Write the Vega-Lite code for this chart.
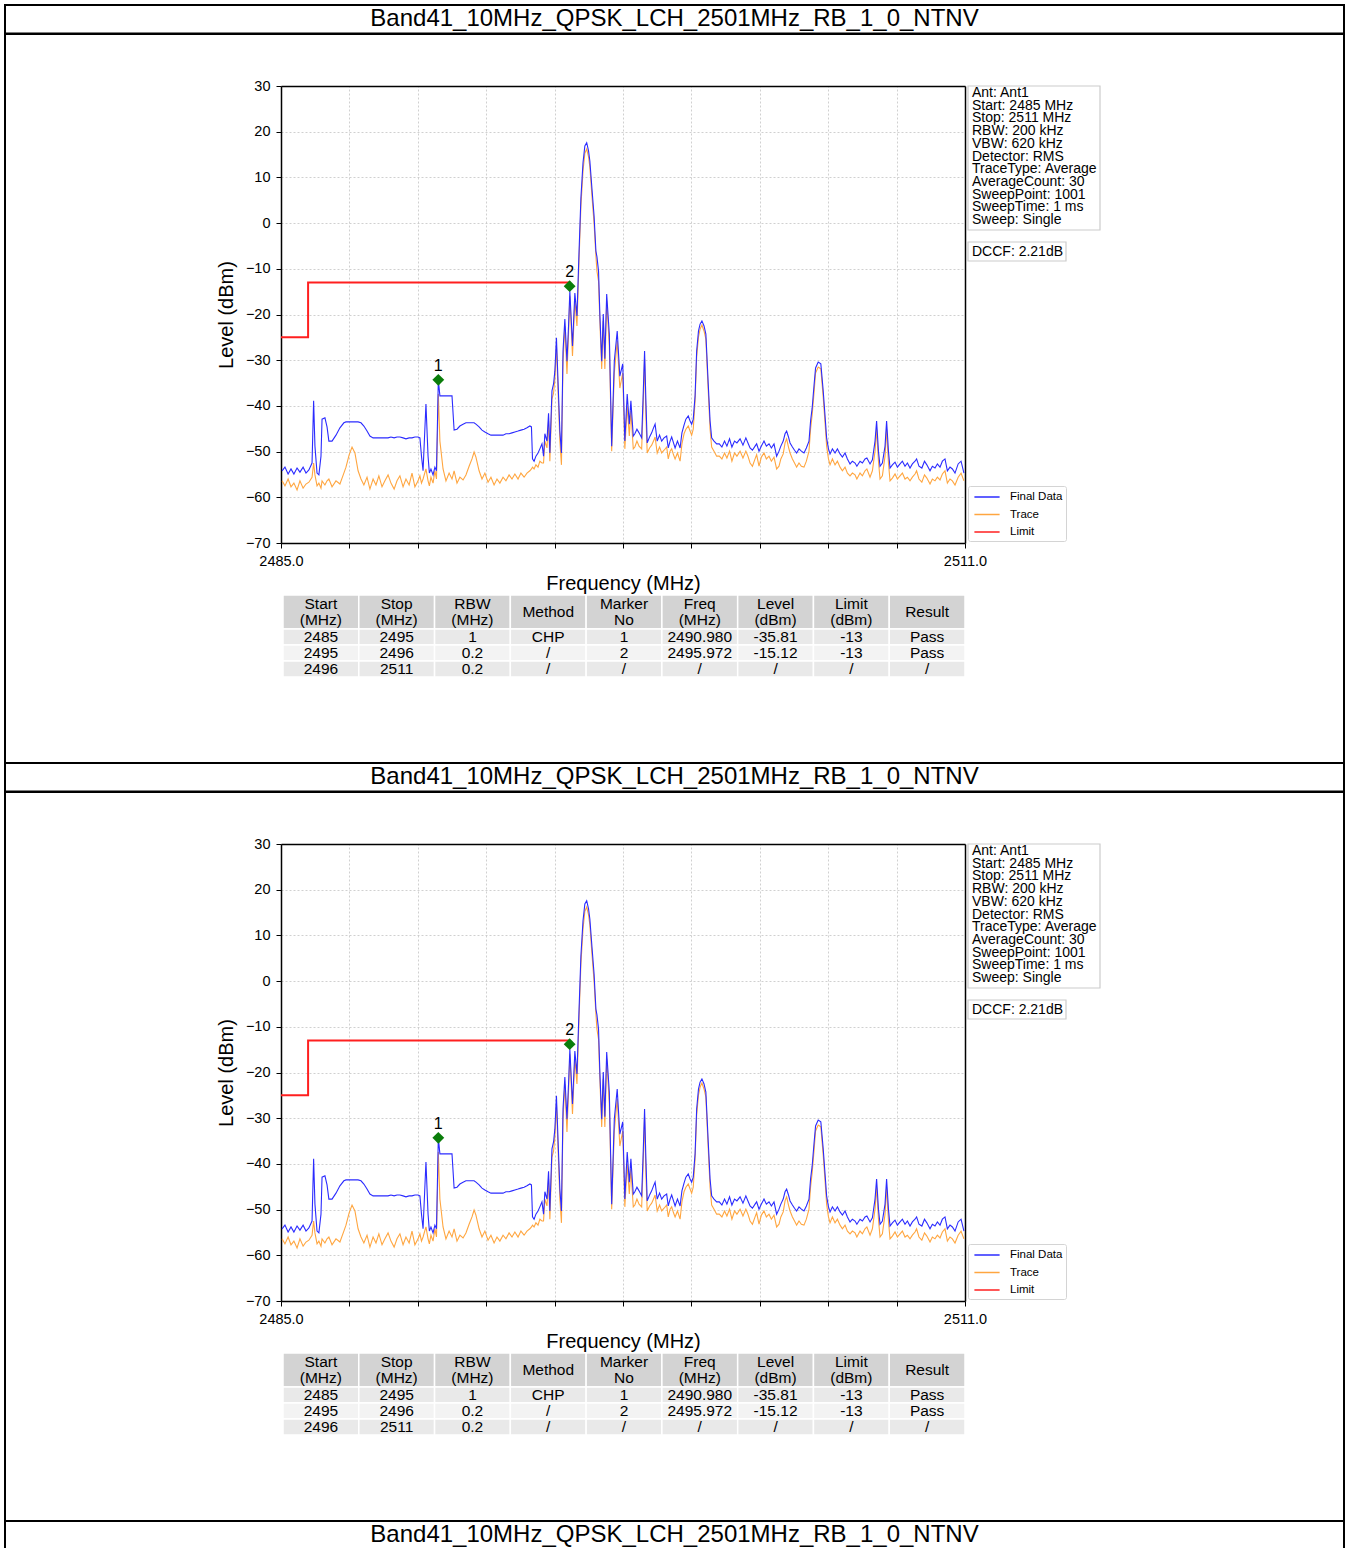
{
"$schema":"https://vega.github.io/schema/vega-lite/v6.json",
"padding":{"left":4,"top":4,"right":2,"bottom":0},
"background":"white",
"spacing":0,
"bounds":"flush",
"resolve":{"scale":{"color":"independent"},"legend":{"color":"independent"}},
"config":{"font":"Liberation Sans","view":{"stroke":null},"axis":{"titleFontWeight":"normal"},"text":{"font":"Liberation Sans"}},
"datasets":{
"ttl":[{"t":"Band41_10MHz_QPSK_LCH_2501MHz_RB_1_0_NTNV"}],
"limit":[{"f":2485,"v":-25},{"f":2486.03,"v":-13},{"f":2496,"v":-13}],
"mk":[{"f":2490.98,"lev":-34.3,"m":"1"},{"f":2495.972,"lev":-13.8,"m":"2"}],
"tblH":[{"col":"Start","h":"Start\n(MHz)"},{"col":"Stop","h":"Stop\n(MHz)"},{"col":"RBW","h":"RBW\n(MHz)"},{"col":"Method","h":"Method"},{"col":"Marker","h":"Marker\nNo"},{"col":"Freq","h":"Freq\n(MHz)"},{"col":"Level","h":"Level\n(dBm)"},{"col":"Limit","h":"Limit\n(dBm)"},{"col":"Result","h":"Result"}],
"tblB":[
{"row":"r1","Start":"2485","Stop":"2495","RBW":"1","Method":"CHP","Marker":"1","Freq":"2490.980","Level":"-35.81","Limit":"-13","Result":"Pass"},
{"row":"r2","Start":"2495","Stop":"2496","RBW":"0.2","Method":"/","Marker":"2","Freq":"2495.972","Level":"-15.12","Limit":"-13","Result":"Pass"},
{"row":"r3","Start":"2496","Stop":"2511","RBW":"0.2","Method":"/","Marker":"/","Freq":"/","Level":"/","Limit":"/","Result":"/"}],
"info":[{"k":"info","t":"Ant: Ant1\nStart: 2485 MHz\nStop: 2511 MHz\nRBW: 200 kHz\nVBW: 620 kHz\nDetector: RMS\nTraceType: Average\nAverageCount: 30\nSweepPoint: 1001\nSweepTime: 1 ms\nSweep: Single"}],
"dccf":[{"k":"dccf","t":"DCCF: 2.21dB"}],
"spec":[
{"f":2485.04,"fd":-54.2,"tr":-56.4},{"f":2485.15,"fd":-53.4,"tr":-57.5},{"f":2485.27,"fd":-54.9,"tr":-56.0},{"f":2485.38,"fd":-53.8,"tr":-57.7},{"f":2485.49,"fd":-54.9,"tr":-56.9},{"f":2485.61,"fd":-53.6,"tr":-58.4},{"f":2485.72,"fd":-54.5,"tr":-56.4},{"f":2485.84,"fd":-53.4,"tr":-58.0},{"f":2485.95,"fd":-54.7,"tr":-57.1},{"f":2486.06,"fd":-54.0,"tr":-56.7},
{"f":2486.18,"fd":-52.5,"tr":-55.6},{"f":2486.24,"fd":-38.9,"tr":-52.5},{"f":2486.29,"fd":-48.8,"tr":-55.1},{"f":2486.37,"fd":-54.7,"tr":-57.5},{"f":2486.44,"fd":-55.1,"tr":-56.9},{"f":2486.52,"fd":-51.0,"tr":-58.0},{"f":2486.56,"fd":-42.9,"tr":-56.4},{"f":2486.67,"fd":-42.6,"tr":-57.3},{"f":2486.75,"fd":-44.6,"tr":-56.4},{"f":2486.82,"fd":-47.7,"tr":-56.0},
{"f":2486.94,"fd":-47.7,"tr":-57.7},{"f":2487.09,"fd":-46.4,"tr":-56.4},{"f":2487.24,"fd":-44.8,"tr":-57.1},{"f":2487.39,"fd":-43.7,"tr":-54.7},{"f":2487.47,"fd":-43.5,"tr":-53.4},{"f":2487.59,"fd":-43.5,"tr":-50.7},{"f":2487.70,"fd":-43.5,"tr":-49.0},{"f":2487.81,"fd":-43.5,"tr":-50.3},{"f":2487.93,"fd":-43.5,"tr":-54.2},{"f":2488.04,"fd":-43.7,"tr":-56.0},
{"f":2488.15,"fd":-44.4,"tr":-57.3},{"f":2488.27,"fd":-45.5,"tr":-55.6},{"f":2488.38,"fd":-46.6,"tr":-58.2},{"f":2488.50,"fd":-47.0,"tr":-56.0},{"f":2488.61,"fd":-47.0,"tr":-57.3},{"f":2488.72,"fd":-47.0,"tr":-55.3},{"f":2488.84,"fd":-47.0,"tr":-57.7},{"f":2488.95,"fd":-47.0,"tr":-56.4},{"f":2489.07,"fd":-47.0,"tr":-55.1},{"f":2489.18,"fd":-46.8,"tr":-56.9},
{"f":2489.30,"fd":-47.0,"tr":-58.2},{"f":2489.41,"fd":-46.8,"tr":-56.4},{"f":2489.52,"fd":-46.8,"tr":-55.3},{"f":2489.64,"fd":-47.0,"tr":-57.7},{"f":2489.75,"fd":-47.2,"tr":-56.0},{"f":2489.87,"fd":-47.0,"tr":-57.3},{"f":2489.98,"fd":-47.0,"tr":-54.7},{"f":2490.09,"fd":-46.8,"tr":-57.7},{"f":2490.21,"fd":-46.8,"tr":-56.4},{"f":2490.28,"fd":-47.0,"tr":-55.3},
{"f":2490.34,"fd":-51.0,"tr":-56.9},{"f":2490.40,"fd":-54.2,"tr":-56.0},{"f":2490.51,"fd":-39.6,"tr":-53.8},{"f":2490.59,"fd":-51.0,"tr":-56.4},{"f":2490.64,"fd":-54.7,"tr":-57.5},{"f":2490.70,"fd":-53.8,"tr":-55.6},{"f":2490.78,"fd":-55.1,"tr":-56.9},{"f":2490.85,"fd":-53.4,"tr":-54.2},{"f":2490.91,"fd":-54.2,"tr":-56.0},{"f":2490.98,"fd":-34.3,"tr":-37.4},
{"f":2491.04,"fd":-37.8,"tr":-47.7},{"f":2491.16,"fd":-37.8,"tr":-53.8},{"f":2491.27,"fd":-37.8,"tr":-56.4},{"f":2491.39,"fd":-37.8,"tr":-54.7},{"f":2491.50,"fd":-37.8,"tr":-56.0},{"f":2491.58,"fd":-45.3,"tr":-54.2},{"f":2491.69,"fd":-45.1,"tr":-56.9},{"f":2491.80,"fd":-44.4,"tr":-55.6},{"f":2491.92,"fd":-44.0,"tr":-56.2},{"f":2492.03,"fd":-43.7,"tr":-55.1},
{"f":2492.15,"fd":-43.7,"tr":-53.2},{"f":2492.26,"fd":-43.7,"tr":-51.6},{"f":2492.34,"fd":-43.7,"tr":-50.1},{"f":2492.41,"fd":-44.0,"tr":-51.2},{"f":2492.53,"fd":-44.6,"tr":-54.2},{"f":2492.64,"fd":-45.3,"tr":-56.0},{"f":2492.75,"fd":-45.7,"tr":-54.7},{"f":2492.87,"fd":-46.1,"tr":-56.7},{"f":2492.98,"fd":-46.4,"tr":-55.6},{"f":2493.10,"fd":-46.4,"tr":-57.3},
{"f":2493.21,"fd":-46.4,"tr":-56.0},{"f":2493.32,"fd":-46.4,"tr":-56.9},{"f":2493.44,"fd":-46.4,"tr":-55.6},{"f":2493.55,"fd":-46.1,"tr":-56.4},{"f":2493.67,"fd":-46.1,"tr":-55.1},{"f":2493.78,"fd":-45.9,"tr":-56.0},{"f":2493.89,"fd":-45.7,"tr":-54.9},{"f":2494.01,"fd":-45.5,"tr":-56.0},{"f":2494.12,"fd":-45.3,"tr":-54.7},{"f":2494.24,"fd":-45.1,"tr":-55.6},
{"f":2494.35,"fd":-44.8,"tr":-54.7},{"f":2494.46,"fd":-44.4,"tr":-54.2},{"f":2494.52,"fd":-44.6,"tr":-53.8},{"f":2494.56,"fd":-51.6,"tr":-53.4},{"f":2494.62,"fd":-52.1,"tr":-53.8},{"f":2494.69,"fd":-51.0,"tr":-52.9},{"f":2494.77,"fd":-50.3,"tr":-53.4},{"f":2494.84,"fd":-49.4,"tr":-52.1},{"f":2494.92,"fd":-48.3,"tr":-52.5},{"f":2494.98,"fd":-51.0,"tr":-52.5},
{"f":2495.03,"fd":-46.1,"tr":-47.7},{"f":2495.11,"fd":-47.7,"tr":-49.2},{"f":2495.17,"fd":-41.6,"tr":-43.3},{"f":2495.22,"fd":-50.3,"tr":-52.1},{"f":2495.30,"fd":-36.7,"tr":-38.5},{"f":2495.36,"fd":-35.2,"tr":-37.2},{"f":2495.41,"fd":-32.4,"tr":-34.1},{"f":2495.47,"fd":-25.1,"tr":-26.9},{"f":2495.53,"fd":-34.6,"tr":-36.7},{"f":2495.60,"fd":-45.5,"tr":-47.7},
{"f":2495.66,"fd":-50.3,"tr":-52.9},{"f":2495.72,"fd":-28.0,"tr":-30.2},{"f":2495.79,"fd":-21.0,"tr":-22.5},{"f":2495.87,"fd":-30.2,"tr":-33.0},{"f":2495.93,"fd":-22.5,"tr":-24.3},{"f":2495.98,"fd":-14.9,"tr":-16.0},{"f":2496.08,"fd":-26.9,"tr":-29.1},{"f":2496.17,"fd":-15.3,"tr":-17.0},{"f":2496.25,"fd":-20.3,"tr":-22.5},{"f":2496.33,"fd":-6.1,"tr":-7.9},
{"f":2496.40,"fd":5.5,"tr":3.7},{"f":2496.48,"fd":13.2,"tr":11.4},{"f":2496.55,"fd":16.9,"tr":15.3},{"f":2496.62,"fd":17.6,"tr":16.2},{"f":2496.69,"fd":15.8,"tr":14.5},{"f":2496.74,"fd":13.6,"tr":12.3},{"f":2496.82,"fd":7.5,"tr":5.9},{"f":2496.90,"fd":1.6,"tr":0.0},{"f":2496.97,"fd":-6.1,"tr":-7.2},{"f":2497.01,"fd":-7.4,"tr":-10.5},
{"f":2497.07,"fd":-10.5,"tr":-12.7},{"f":2497.12,"fd":-19.9,"tr":-21.4},{"f":2497.19,"fd":-30.2,"tr":-31.9},{"f":2497.25,"fd":-19.9,"tr":-21.4},{"f":2497.31,"fd":-29.7,"tr":-31.9},{"f":2497.38,"fd":-15.5,"tr":-17.0},{"f":2497.48,"fd":-24.3,"tr":-26.9},{"f":2497.57,"fd":-48.8,"tr":-49.9},{"f":2497.67,"fd":-30.2,"tr":-32.8},{"f":2497.78,"fd":-23.6,"tr":-25.8},
{"f":2497.88,"fd":-33.5,"tr":-36.1},{"f":2497.99,"fd":-30.8,"tr":-32.8},{"f":2498.07,"fd":-47.7,"tr":-49.4},{"f":2498.16,"fd":-37.4,"tr":-40.0},{"f":2498.24,"fd":-44.0,"tr":-46.6},{"f":2498.30,"fd":-38.9,"tr":-41.1},{"f":2498.39,"fd":-46.6,"tr":-49.4},{"f":2498.45,"fd":-46.1,"tr":-49.0},{"f":2498.53,"fd":-45.1,"tr":-47.7},{"f":2498.61,"fd":-45.9,"tr":-48.8},
{"f":2498.71,"fd":-47.0,"tr":-49.4},{"f":2498.76,"fd":-38.9,"tr":-41.1},{"f":2498.82,"fd":-28.0,"tr":-29.7},{"f":2498.87,"fd":-38.9,"tr":-42.2},{"f":2498.92,"fd":-48.1,"tr":-50.3},{"f":2499.01,"fd":-46.8,"tr":-49.2},{"f":2499.09,"fd":-45.9,"tr":-48.6},{"f":2499.16,"fd":-44.8,"tr":-47.7},{"f":2499.22,"fd":-44.0,"tr":-46.8},{"f":2499.30,"fd":-47.7,"tr":-50.3},
{"f":2499.39,"fd":-46.4,"tr":-49.0},{"f":2499.47,"fd":-47.7,"tr":-50.3},{"f":2499.56,"fd":-47.0,"tr":-49.7},{"f":2499.66,"fd":-46.6,"tr":-49.0},{"f":2499.72,"fd":-49.2,"tr":-51.6},{"f":2499.79,"fd":-47.7,"tr":-49.9},{"f":2499.85,"fd":-46.8,"tr":-49.4},{"f":2499.92,"fd":-48.1,"tr":-50.7},{"f":2499.98,"fd":-49.2,"tr":-51.6},{"f":2500.07,"fd":-47.7,"tr":-50.3},
{"f":2500.17,"fd":-49.2,"tr":-52.1},{"f":2500.24,"fd":-45.9,"tr":-48.3},{"f":2500.32,"fd":-44.2,"tr":-46.1},{"f":2500.39,"fd":-42.9,"tr":-45.1},{"f":2500.48,"fd":-42.2,"tr":-44.4},{"f":2500.55,"fd":-43.3,"tr":-45.5},{"f":2500.61,"fd":-44.0,"tr":-46.4},{"f":2500.67,"fd":-42.9,"tr":-45.1},{"f":2500.74,"fd":-37.8,"tr":-38.9},{"f":2500.80,"fd":-28.0,"tr":-29.3},
{"f":2500.87,"fd":-23.6,"tr":-24.9},{"f":2500.93,"fd":-22.1,"tr":-23.2},{"f":2501.00,"fd":-21.4,"tr":-22.3},{"f":2501.08,"fd":-22.5,"tr":-23.6},{"f":2501.15,"fd":-24.3,"tr":-25.4},{"f":2501.24,"fd":-35.2,"tr":-36.7},{"f":2501.31,"fd":-43.3,"tr":-45.1},{"f":2501.37,"fd":-47.0,"tr":-49.0},{"f":2501.46,"fd":-47.7,"tr":-49.9},{"f":2501.56,"fd":-48.3,"tr":-51.0},
{"f":2501.66,"fd":-48.3,"tr":-51.0},{"f":2501.76,"fd":-49.0,"tr":-51.6},{"f":2501.86,"fd":-47.7,"tr":-50.3},{"f":2501.95,"fd":-48.8,"tr":-51.4},{"f":2502.05,"fd":-47.2,"tr":-49.9},{"f":2502.14,"fd":-49.0,"tr":-52.1},{"f":2502.24,"fd":-47.7,"tr":-50.3},{"f":2502.33,"fd":-48.1,"tr":-51.0},{"f":2502.45,"fd":-47.2,"tr":-49.9},{"f":2502.56,"fd":-48.6,"tr":-51.4},
{"f":2502.67,"fd":-47.0,"tr":-49.9},{"f":2502.75,"fd":-48.1,"tr":-51.0},{"f":2502.83,"fd":-49.2,"tr":-52.5},{"f":2502.92,"fd":-49.7,"tr":-53.2},{"f":2503.02,"fd":-48.8,"tr":-51.6},{"f":2503.08,"fd":-48.3,"tr":-50.7},{"f":2503.17,"fd":-49.9,"tr":-53.2},{"f":2503.26,"fd":-48.8,"tr":-51.2},{"f":2503.36,"fd":-47.7,"tr":-50.3},{"f":2503.45,"fd":-48.8,"tr":-51.6},
{"f":2503.55,"fd":-48.3,"tr":-51.0},{"f":2503.64,"fd":-49.2,"tr":-52.1},{"f":2503.74,"fd":-48.3,"tr":-51.2},{"f":2503.84,"fd":-51.0,"tr":-53.8},{"f":2503.93,"fd":-49.9,"tr":-53.2},{"f":2504.00,"fd":-48.8,"tr":-51.6},{"f":2504.09,"fd":-47.7,"tr":-50.5},{"f":2504.16,"fd":-46.1,"tr":-48.1},{"f":2504.22,"fd":-45.5,"tr":-47.2},{"f":2504.29,"fd":-46.8,"tr":-49.0},
{"f":2504.35,"fd":-48.1,"tr":-50.3},{"f":2504.44,"fd":-49.0,"tr":-51.6},{"f":2504.52,"fd":-49.7,"tr":-52.5},{"f":2504.60,"fd":-50.3,"tr":-53.4},{"f":2504.69,"fd":-49.4,"tr":-52.5},{"f":2504.78,"fd":-49.9,"tr":-53.2},{"f":2504.88,"fd":-50.3,"tr":-53.4},{"f":2504.97,"fd":-49.2,"tr":-52.1},{"f":2505.07,"fd":-47.7,"tr":-49.9},{"f":2505.13,"fd":-43.3,"tr":-45.1},
{"f":2505.19,"fd":-40.5,"tr":-42.0},{"f":2505.26,"fd":-35.6,"tr":-37.2},{"f":2505.32,"fd":-31.7,"tr":-32.8},{"f":2505.42,"fd":-30.4,"tr":-31.5},{"f":2505.52,"fd":-30.8,"tr":-31.9},{"f":2505.61,"fd":-36.7,"tr":-38.1},{"f":2505.68,"fd":-42.2,"tr":-43.7},{"f":2505.74,"fd":-47.0,"tr":-48.8},{"f":2505.81,"fd":-49.4,"tr":-51.6},{"f":2505.87,"fd":-50.5,"tr":-52.9},
{"f":2505.96,"fd":-49.4,"tr":-51.6},{"f":2506.06,"fd":-50.3,"tr":-52.9},{"f":2506.15,"fd":-49.4,"tr":-52.1},{"f":2506.25,"fd":-50.5,"tr":-53.4},{"f":2506.34,"fd":-51.2,"tr":-54.2},{"f":2506.44,"fd":-50.3,"tr":-53.4},{"f":2506.53,"fd":-51.6,"tr":-54.7},{"f":2506.63,"fd":-52.7,"tr":-55.3},{"f":2506.72,"fd":-52.1,"tr":-54.7},{"f":2506.82,"fd":-52.5,"tr":-55.1},
{"f":2506.89,"fd":-53.2,"tr":-56.0},{"f":2507.01,"fd":-52.1,"tr":-54.7},{"f":2507.10,"fd":-52.5,"tr":-55.3},{"f":2507.20,"fd":-51.6,"tr":-54.2},{"f":2507.27,"fd":-51.4,"tr":-53.8},{"f":2507.39,"fd":-52.7,"tr":-55.6},{"f":2507.48,"fd":-51.8,"tr":-54.2},{"f":2507.58,"fd":-47.7,"tr":-49.9},{"f":2507.64,"fd":-43.3,"tr":-45.1},{"f":2507.71,"fd":-49.9,"tr":-52.1},
{"f":2507.77,"fd":-53.2,"tr":-56.0},{"f":2507.86,"fd":-52.5,"tr":-55.3},{"f":2507.96,"fd":-48.8,"tr":-51.0},{"f":2508.02,"fd":-43.3,"tr":-45.1},{"f":2508.09,"fd":-49.9,"tr":-52.5},{"f":2508.15,"fd":-53.6,"tr":-56.4},{"f":2508.24,"fd":-52.9,"tr":-55.8},{"f":2508.34,"fd":-52.3,"tr":-54.9},{"f":2508.43,"fd":-53.4,"tr":-56.0},{"f":2508.53,"fd":-52.7,"tr":-55.3},
{"f":2508.62,"fd":-52.1,"tr":-54.7},{"f":2508.72,"fd":-53.2,"tr":-56.0},{"f":2508.81,"fd":-52.5,"tr":-55.6},{"f":2508.91,"fd":-53.6,"tr":-56.4},{"f":2509.00,"fd":-52.7,"tr":-55.6},{"f":2509.10,"fd":-52.1,"tr":-54.9},{"f":2509.16,"fd":-51.6,"tr":-54.2},{"f":2509.25,"fd":-53.2,"tr":-56.0},{"f":2509.36,"fd":-53.6,"tr":-56.7},{"f":2509.46,"fd":-52.1,"tr":-55.1},
{"f":2509.55,"fd":-52.9,"tr":-55.8},{"f":2509.67,"fd":-54.2,"tr":-57.1},{"f":2509.76,"fd":-53.2,"tr":-56.0},{"f":2509.86,"fd":-53.6,"tr":-56.4},{"f":2509.95,"fd":-52.7,"tr":-55.6},{"f":2510.05,"fd":-53.4,"tr":-56.2},{"f":2510.14,"fd":-52.1,"tr":-54.9},{"f":2510.24,"fd":-51.6,"tr":-54.2},{"f":2510.33,"fd":-54.2,"tr":-56.9},{"f":2510.43,"fd":-53.4,"tr":-56.0},
{"f":2510.52,"fd":-53.8,"tr":-56.4},{"f":2510.62,"fd":-54.7,"tr":-57.3},{"f":2510.74,"fd":-52.7,"tr":-55.6},{"f":2510.85,"fd":-52.1,"tr":-54.7},{"f":2510.96,"fd":-54.7,"tr":-56.4}
]
},
"vconcat":[
{"width":1339,"height":28.5,"view":{"stroke":"black","strokeWidth":2},"data":{"name":"ttl"},"mark":{"type":"text","fontSize":24,"baseline":"middle","color":"black"},"encoding":{"text":{"field":"t"}}},
{"width":1339,"height":729,"view":{"stroke":"black","strokeWidth":2},
"resolve":{"scale":{"x":"independent","y":"independent"},"axis":{"x":"independent","y":"independent"}},
"layer":[
{"layer":[
{"data":{"name":"spec"},"mark":{"type":"line","strokeWidth":1.1},
"encoding":{
"x":{"field":"f","type":"quantitative","scale":{"domain":[2485,2511],"range":[276,960],"nice":false,"zero":false},"axis":{"orient":"top","offset":-52,"values":[2485,2487.6,2490.2,2492.8,2495.4,2498,2500.6,2503.2,2505.8,2508.4,2511],"grid":true,"gridColor":"#c4c4c4","gridDash":[2,2],"gridWidth":0.8,"ticks":false,"labels":false,"domainColor":"black","domainWidth":1.5,"title":null}},
"y":{"field":"tr","type":"quantitative","scale":{"domain":[-70,30],"range":[509,52],"nice":false,"zero":false},"axis":{"orient":"right","offset":-379,"grid":false,"ticks":false,"labels":false,"domainColor":"black","domainWidth":1.5,"title":null}},
"color":{"datum":"Trace","type":"nominal","scale":{"domain":["Final Data","Trace","Limit"],"range":["#2b2bff","#ffa640","#ff1f1f"]},"legend":{"title":null,"orient":"none","legendX":963,"legendY":452,"symbolType":"M-1.8,0H1.8","symbolSize":196,"symbolStrokeWidth":1.5,"symbolOffset":8,"labelFontSize":11.5,"labelColor":"black","labelOffset":15,"padding":3,"rowPadding":3.5,"strokeColor":"#d4d4d4","fillColor":"white","cornerRadius":2}}}},
{"data":{"name":"spec"},"mark":{"type":"line","strokeWidth":1.1},
"encoding":{
"x":{"field":"f","type":"quantitative","scale":{"domain":[2485,2511],"range":[276,960],"nice":false,"zero":false},"axis":{"orient":"bottom","offset":-220,"values":[2485,2487.6,2490.2,2492.8,2495.4,2498,2500.6,2503.2,2505.8,2508.4,2511],"grid":false,"domainColor":"black","domainWidth":1.5,"tickColor":"black","tickSize":5,"labelExpr":"datum.value == 2485 || datum.value == 2511 ? format(datum.value, '.1f') : ''","labelFontSize":14.5,"labelColor":"black","labelPadding":6,"labelFlush":false,"labelOverlap":false,"title":"Frequency (MHz)","titleFontSize":20,"titleColor":"black","titlePadding":6}},
"y":{"field":"fd","type":"quantitative","scale":{"domain":[-70,30],"range":[509,52],"nice":false,"zero":false},"axis":{"orient":"left","offset":-276,"values":[-70,-60,-50,-40,-30,-20,-10,0,10,20,30],"format":"d","grid":true,"gridColor":"#c4c4c4","gridDash":[2,2],"gridWidth":0.8,"domainColor":"black","domainWidth":1.5,"tickColor":"black","tickSize":5,"labelFontSize":14.5,"labelColor":"black","labelPadding":6,"labelFlush":false,"title":"Level (dBm)","titleFontSize":20,"titleColor":"black","titlePadding":9}},
"color":{"datum":"Final Data","type":"nominal"}}},
{"data":{"name":"limit"},"mark":{"type":"line","interpolate":"step-after","strokeWidth":2},
"encoding":{"x":{"field":"f","type":"quantitative","scale":{"domain":[2485,2511],"range":[276,960],"nice":false,"zero":false},"axis":null},"y":{"field":"v","type":"quantitative","scale":{"domain":[-70,30],"range":[509,52],"nice":false,"zero":false},"axis":null},"color":{"datum":"Limit","type":"nominal"}}},
{"data":{"name":"mk"},"mark":{"type":"point","shape":"diamond","filled":true,"size":140,"color":"#0a7d0a","opacity":1},
"encoding":{"x":{"field":"f","type":"quantitative","scale":{"domain":[2485,2511],"range":[276,960],"nice":false,"zero":false},"axis":null},"y":{"field":"lev","type":"quantitative","scale":{"domain":[-70,30],"range":[509,52],"nice":false,"zero":false},"axis":null}}},
{"data":{"name":"mk"},"mark":{"type":"text","dy":-14,"fontSize":16,"color":"black"},
"encoding":{"x":{"field":"f","type":"quantitative","scale":{"domain":[2485,2511],"range":[276,960],"nice":false,"zero":false},"axis":null},"y":{"field":"lev","type":"quantitative","scale":{"domain":[-70,30],"range":[509,52],"nice":false,"zero":false},"axis":null},"text":{"field":"m"}}}
]},
{"data":{"name":"tblH"},
"encoding":{
"x":{"field":"col","type":"nominal","sort":null,"scale":{"domain":["Start","Stop","RBW","Method","Marker","Freq","Level","Limit","Result"],"range":[278,960],"paddingInner":0,"paddingOuter":0},"axis":null},
"y":{"datum":"head","type":"nominal","scale":{"domain":["head"],"range":[561,595],"paddingInner":0,"paddingOuter":0},"axis":null}},
"layer":[
{"mark":{"type":"rect","fill":"#d3d3d3","stroke":"white","strokeWidth":1.5}},
{"transform":[{"filter":"datum.col != 'Method' && datum.col != 'Result'"}],"mark":{"type":"text","fontSize":15.5,"lineBreak":"\n","lineHeight":16,"baseline":"middle","dy":-8,"color":"black"},"encoding":{"text":{"field":"h"}}},
{"transform":[{"filter":"datum.col == 'Method' || datum.col == 'Result'"}],"mark":{"type":"text","fontSize":15.5,"baseline":"middle","color":"black"},"encoding":{"text":{"field":"h"}}}
]},
{"data":{"name":"tblB"},
"transform":[{"fold":["Start","Stop","RBW","Method","Marker","Freq","Level","Limit","Result"],"as":["col","val"]}],
"encoding":{
"x":{"field":"col","type":"nominal","sort":null,"scale":{"domain":["Start","Stop","RBW","Method","Marker","Freq","Level","Limit","Result"],"range":[278,960],"paddingInner":0,"paddingOuter":0},"axis":null},
"y":{"field":"row","type":"nominal","scale":{"domain":["r1","r2","r3"],"range":[595,643],"paddingInner":0,"paddingOuter":0},"axis":null}},
"layer":[
{"mark":{"type":"rect","stroke":"white","strokeWidth":1.5},"encoding":{"fill":{"condition":{"test":"datum.row == 'r2'","value":"#f3f3f3"},"value":"#e9e9e9"}}},
{"mark":{"type":"text","fontSize":15.5,"baseline":"middle","color":"black"},"encoding":{"text":{"field":"val"}}}
]},
{"data":{"name":"info"},
"layer":[
{"mark":{"type":"rect","fill":"white","stroke":"#cccccc","strokeWidth":1.2},
"encoding":{"x":{"field":"k","type":"nominal","scale":{"domain":["info"],"range":[963,1095],"paddingInner":0,"paddingOuter":0},"axis":null},"y":{"field":"k","type":"nominal","scale":{"domain":["info"],"range":[52,196],"paddingInner":0,"paddingOuter":0},"axis":null}}},
{"mark":{"type":"text","align":"left","baseline":"top","dx":4,"dy":0,"fontSize":14,"lineHeight":12.7,"lineBreak":"\n","color":"black"},
"encoding":{"x":{"field":"k","type":"nominal","bandPosition":0,"scale":{"domain":["info"],"range":[963,1095],"paddingInner":0,"paddingOuter":0},"axis":null},"y":{"field":"k","type":"nominal","bandPosition":0,"scale":{"domain":["info"],"range":[52,196],"paddingInner":0,"paddingOuter":0},"axis":null},"text":{"field":"t"}}}
]},
{"data":{"name":"dccf"},
"layer":[
{"mark":{"type":"rect","fill":"white","stroke":"#cccccc","strokeWidth":1.2},
"encoding":{"x":{"field":"k","type":"nominal","scale":{"domain":["dccf"],"range":[963,1061],"paddingInner":0,"paddingOuter":0},"axis":null},"y":{"field":"k","type":"nominal","scale":{"domain":["dccf"],"range":[208,227],"paddingInner":0,"paddingOuter":0},"axis":null}}},
{"mark":{"type":"text","align":"left","baseline":"middle","dx":4,"fontSize":14,"color":"black"},
"encoding":{"x":{"field":"k","type":"nominal","bandPosition":0,"scale":{"domain":["dccf"],"range":[963,1061],"paddingInner":0,"paddingOuter":0},"axis":null},"y":{"field":"k","type":"nominal","scale":{"domain":["dccf"],"range":[208,227],"paddingInner":0,"paddingOuter":0},"axis":null},"text":{"field":"t"}}}
]}
]},
{"width":1339,"height":28.5,"view":{"stroke":"black","strokeWidth":2},"data":{"name":"ttl"},"mark":{"type":"text","fontSize":24,"baseline":"middle","color":"black"},"encoding":{"text":{"field":"t"}}},
{"width":1339,"height":729,"view":{"stroke":"black","strokeWidth":2},
"resolve":{"scale":{"x":"independent","y":"independent"},"axis":{"x":"independent","y":"independent"}},
"layer":[
{"layer":[
{"data":{"name":"spec"},"mark":{"type":"line","strokeWidth":1.1},
"encoding":{
"x":{"field":"f","type":"quantitative","scale":{"domain":[2485,2511],"range":[276,960],"nice":false,"zero":false},"axis":{"orient":"top","offset":-52,"values":[2485,2487.6,2490.2,2492.8,2495.4,2498,2500.6,2503.2,2505.8,2508.4,2511],"grid":true,"gridColor":"#c4c4c4","gridDash":[2,2],"gridWidth":0.8,"ticks":false,"labels":false,"domainColor":"black","domainWidth":1.5,"title":null}},
"y":{"field":"tr","type":"quantitative","scale":{"domain":[-70,30],"range":[509,52],"nice":false,"zero":false},"axis":{"orient":"right","offset":-379,"grid":false,"ticks":false,"labels":false,"domainColor":"black","domainWidth":1.5,"title":null}},
"color":{"datum":"Trace","type":"nominal","scale":{"domain":["Final Data","Trace","Limit"],"range":["#2b2bff","#ffa640","#ff1f1f"]},"legend":{"title":null,"orient":"none","legendX":963,"legendY":452,"symbolType":"M-1.8,0H1.8","symbolSize":196,"symbolStrokeWidth":1.5,"symbolOffset":8,"labelFontSize":11.5,"labelColor":"black","labelOffset":15,"padding":3,"rowPadding":3.5,"strokeColor":"#d4d4d4","fillColor":"white","cornerRadius":2}}}},
{"data":{"name":"spec"},"mark":{"type":"line","strokeWidth":1.1},
"encoding":{
"x":{"field":"f","type":"quantitative","scale":{"domain":[2485,2511],"range":[276,960],"nice":false,"zero":false},"axis":{"orient":"bottom","offset":-220,"values":[2485,2487.6,2490.2,2492.8,2495.4,2498,2500.6,2503.2,2505.8,2508.4,2511],"grid":false,"domainColor":"black","domainWidth":1.5,"tickColor":"black","tickSize":5,"labelExpr":"datum.value == 2485 || datum.value == 2511 ? format(datum.value, '.1f') : ''","labelFontSize":14.5,"labelColor":"black","labelPadding":6,"labelFlush":false,"labelOverlap":false,"title":"Frequency (MHz)","titleFontSize":20,"titleColor":"black","titlePadding":6}},
"y":{"field":"fd","type":"quantitative","scale":{"domain":[-70,30],"range":[509,52],"nice":false,"zero":false},"axis":{"orient":"left","offset":-276,"values":[-70,-60,-50,-40,-30,-20,-10,0,10,20,30],"format":"d","grid":true,"gridColor":"#c4c4c4","gridDash":[2,2],"gridWidth":0.8,"domainColor":"black","domainWidth":1.5,"tickColor":"black","tickSize":5,"labelFontSize":14.5,"labelColor":"black","labelPadding":6,"labelFlush":false,"title":"Level (dBm)","titleFontSize":20,"titleColor":"black","titlePadding":9}},
"color":{"datum":"Final Data","type":"nominal"}}},
{"data":{"name":"limit"},"mark":{"type":"line","interpolate":"step-after","strokeWidth":2},
"encoding":{"x":{"field":"f","type":"quantitative","scale":{"domain":[2485,2511],"range":[276,960],"nice":false,"zero":false},"axis":null},"y":{"field":"v","type":"quantitative","scale":{"domain":[-70,30],"range":[509,52],"nice":false,"zero":false},"axis":null},"color":{"datum":"Limit","type":"nominal"}}},
{"data":{"name":"mk"},"mark":{"type":"point","shape":"diamond","filled":true,"size":140,"color":"#0a7d0a","opacity":1},
"encoding":{"x":{"field":"f","type":"quantitative","scale":{"domain":[2485,2511],"range":[276,960],"nice":false,"zero":false},"axis":null},"y":{"field":"lev","type":"quantitative","scale":{"domain":[-70,30],"range":[509,52],"nice":false,"zero":false},"axis":null}}},
{"data":{"name":"mk"},"mark":{"type":"text","dy":-14,"fontSize":16,"color":"black"},
"encoding":{"x":{"field":"f","type":"quantitative","scale":{"domain":[2485,2511],"range":[276,960],"nice":false,"zero":false},"axis":null},"y":{"field":"lev","type":"quantitative","scale":{"domain":[-70,30],"range":[509,52],"nice":false,"zero":false},"axis":null},"text":{"field":"m"}}}
]},
{"data":{"name":"tblH"},
"encoding":{
"x":{"field":"col","type":"nominal","sort":null,"scale":{"domain":["Start","Stop","RBW","Method","Marker","Freq","Level","Limit","Result"],"range":[278,960],"paddingInner":0,"paddingOuter":0},"axis":null},
"y":{"datum":"head","type":"nominal","scale":{"domain":["head"],"range":[561,595],"paddingInner":0,"paddingOuter":0},"axis":null}},
"layer":[
{"mark":{"type":"rect","fill":"#d3d3d3","stroke":"white","strokeWidth":1.5}},
{"transform":[{"filter":"datum.col != 'Method' && datum.col != 'Result'"}],"mark":{"type":"text","fontSize":15.5,"lineBreak":"\n","lineHeight":16,"baseline":"middle","dy":-8,"color":"black"},"encoding":{"text":{"field":"h"}}},
{"transform":[{"filter":"datum.col == 'Method' || datum.col == 'Result'"}],"mark":{"type":"text","fontSize":15.5,"baseline":"middle","color":"black"},"encoding":{"text":{"field":"h"}}}
]},
{"data":{"name":"tblB"},
"transform":[{"fold":["Start","Stop","RBW","Method","Marker","Freq","Level","Limit","Result"],"as":["col","val"]}],
"encoding":{
"x":{"field":"col","type":"nominal","sort":null,"scale":{"domain":["Start","Stop","RBW","Method","Marker","Freq","Level","Limit","Result"],"range":[278,960],"paddingInner":0,"paddingOuter":0},"axis":null},
"y":{"field":"row","type":"nominal","scale":{"domain":["r1","r2","r3"],"range":[595,643],"paddingInner":0,"paddingOuter":0},"axis":null}},
"layer":[
{"mark":{"type":"rect","stroke":"white","strokeWidth":1.5},"encoding":{"fill":{"condition":{"test":"datum.row == 'r2'","value":"#f3f3f3"},"value":"#e9e9e9"}}},
{"mark":{"type":"text","fontSize":15.5,"baseline":"middle","color":"black"},"encoding":{"text":{"field":"val"}}}
]},
{"data":{"name":"info"},
"layer":[
{"mark":{"type":"rect","fill":"white","stroke":"#cccccc","strokeWidth":1.2},
"encoding":{"x":{"field":"k","type":"nominal","scale":{"domain":["info"],"range":[963,1095],"paddingInner":0,"paddingOuter":0},"axis":null},"y":{"field":"k","type":"nominal","scale":{"domain":["info"],"range":[52,196],"paddingInner":0,"paddingOuter":0},"axis":null}}},
{"mark":{"type":"text","align":"left","baseline":"top","dx":4,"dy":0,"fontSize":14,"lineHeight":12.7,"lineBreak":"\n","color":"black"},
"encoding":{"x":{"field":"k","type":"nominal","bandPosition":0,"scale":{"domain":["info"],"range":[963,1095],"paddingInner":0,"paddingOuter":0},"axis":null},"y":{"field":"k","type":"nominal","bandPosition":0,"scale":{"domain":["info"],"range":[52,196],"paddingInner":0,"paddingOuter":0},"axis":null},"text":{"field":"t"}}}
]},
{"data":{"name":"dccf"},
"layer":[
{"mark":{"type":"rect","fill":"white","stroke":"#cccccc","strokeWidth":1.2},
"encoding":{"x":{"field":"k","type":"nominal","scale":{"domain":["dccf"],"range":[963,1061],"paddingInner":0,"paddingOuter":0},"axis":null},"y":{"field":"k","type":"nominal","scale":{"domain":["dccf"],"range":[208,227],"paddingInner":0,"paddingOuter":0},"axis":null}}},
{"mark":{"type":"text","align":"left","baseline":"middle","dx":4,"fontSize":14,"color":"black"},
"encoding":{"x":{"field":"k","type":"nominal","bandPosition":0,"scale":{"domain":["dccf"],"range":[963,1061],"paddingInner":0,"paddingOuter":0},"axis":null},"y":{"field":"k","type":"nominal","scale":{"domain":["dccf"],"range":[208,227],"paddingInner":0,"paddingOuter":0},"axis":null},"text":{"field":"t"}}}
]}
]},
{"width":1339,"height":28.5,"view":{"stroke":"black","strokeWidth":2},"data":{"name":"ttl"},"mark":{"type":"text","fontSize":24,"baseline":"middle","color":"black"},"encoding":{"text":{"field":"t"}}}
]
}
